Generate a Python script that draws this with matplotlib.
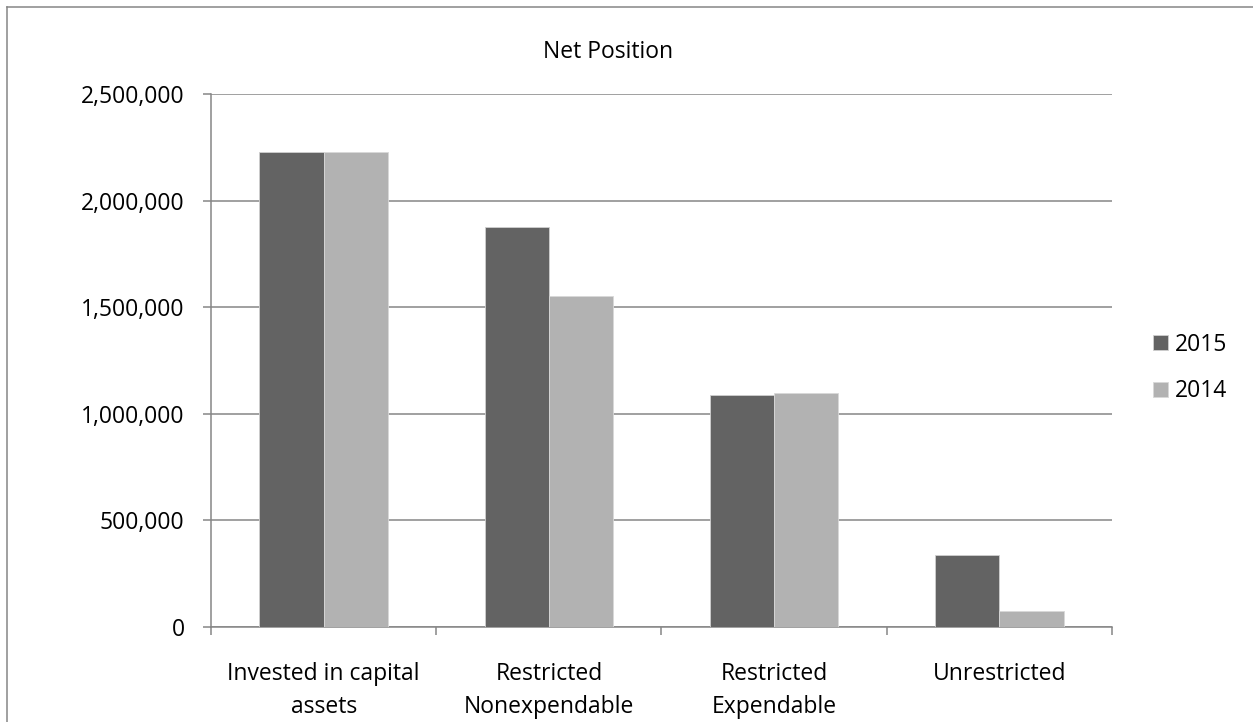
import matplotlib
matplotlib.use("Agg")
import matplotlib.pyplot as plt
from matplotlib.lines import Line2D
from matplotlib.ticker import FuncFormatter
import numpy as np

plt.rcParams['font.family'] = ['Open Sans', 'DejaVu Sans']

categories = ["Invested in capital\nassets", "Restricted\nNonexpendable",
              "Restricted\nExpendable", "Unrestricted"]
series_names = ["2015", "2014"]
values_2015 = [2231000, 1875000, 1091000, 336000]
values_2014 = [2231000, 1552000, 1096000, 76000]
y_ticks = [0, 500000, 1000000, 1500000, 2000000, 2500000]

dark = '#636363'
light = '#b2b2b2'
grid_col = '#868686'
fs = 16.5

fig = plt.figure(figsize=(12.53, 7.22), dpi=100)
ax = fig.add_axes([211 / 1253, 1 - 627 / 722, (1112 - 211) / 1253, (627 - 94.3) / 722])

x = np.arange(len(categories))
w = 1 / 3.5
b1 = ax.bar(x - w / 2, values_2015, width=w, color=dark, edgecolor='#d0d0d0', linewidth=0.6,
            label=series_names[0], zorder=3)
b2 = ax.bar(x + w / 2, values_2014, width=w, color=light, edgecolor='#d8d8d8', linewidth=0.6,
            label=series_names[1], zorder=3)

ax.set_xlim(-0.5, len(categories) - 0.5)
ax.set_ylim(0, 2500000)
ax.set_yticks(y_ticks)
ax.yaxis.set_major_formatter(FuncFormatter(lambda v, p: f"{int(v):,}"))
ax.grid(axis='y', color=grid_col, linewidth=1.1, zorder=0)

ax.set_xticks(x)
ax.set_xticklabels(categories, fontsize=fs, linespacing=1.5)
ax.set_xticks(np.arange(-0.5, len(categories)), minor=True)
ax.tick_params(axis='x', which='major', length=0, pad=25)
ax.tick_params(axis='x', which='minor', length=6, width=1.1, color=grid_col, direction='out')
ax.tick_params(axis='y', length=6, width=1.1, color=grid_col, pad=13, labelsize=fs)

for s in ['top', 'right']:
    ax.spines[s].set_visible(False)
for s in ['left', 'bottom']:
    ax.spines[s].set_color(grid_col)
    ax.spines[s].set_linewidth(1.1)

fig.text(607.7 / 1253, 1 - 52 / 722, "Net Position", fontsize=fs, ha='center', va='center')

fig.legend(handles=[b1, b2], labels=series_names, loc='center left',
           bbox_to_anchor=(1153 / 1253, 1 - 368 / 722), frameon=False, fontsize=fs,
           handlelength=0.65, handleheight=0.65, handletextpad=0.3, labelspacing=1.0,
           borderpad=0, borderaxespad=0)

# outer chart frame (only left and top visible in the crop)
fig.add_artist(Line2D([7 / 1253, 7 / 1253], [0, 1 - 7 / 722], transform=fig.transFigure,
                      color=grid_col, linewidth=1.1))
fig.add_artist(Line2D([7 / 1253, 1], [1 - 7 / 722, 1 - 7 / 722], transform=fig.transFigure,
                      color=grid_col, linewidth=1.1))

fig.savefig("out.png", dpi=100)
